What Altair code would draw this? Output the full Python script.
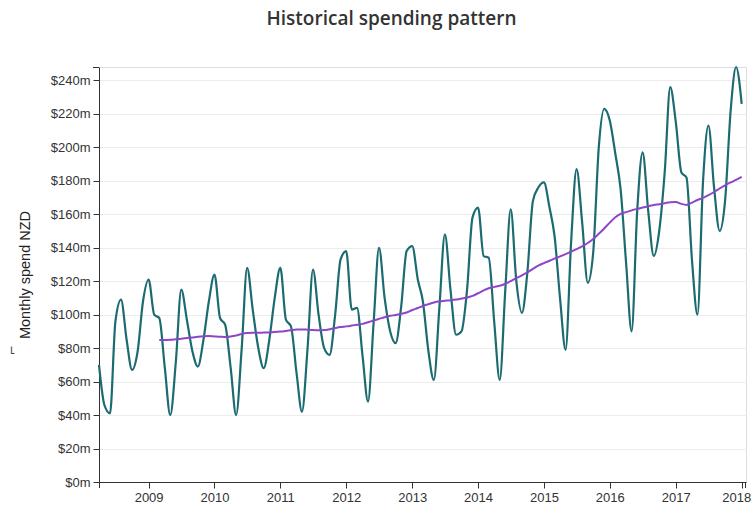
import altair as alt
import pandas as pd

# Monthly spend in NZD millions, April 2008 to January 2018
months = pd.date_range("2008-04-01", "2018-01-01", freq="MS").strftime("%Y-%m-%d").tolist()

spend = [
    # 2008 (Apr-Dec)
    70, 46, 41, 96, 109, 85, 67, 78, 108,
    # 2009
    121, 100, 98, 68, 40, 72, 115, 97, 78, 69, 85, 108,
    # 2010
    124, 98, 94, 68, 40, 80, 128, 103, 80, 68, 85, 110,
    # 2011
    128, 97, 93, 65, 42, 80, 127, 100, 80, 76, 100, 133,
    # 2012
    138, 103, 104, 75, 48, 95, 140, 110, 90, 83, 105, 138,
    # 2013
    141, 121, 108, 78, 61, 105, 148, 115, 88, 90, 115, 158,
    # 2014
    164, 135, 134, 95, 61, 115, 163, 120, 101, 125, 168, 176,
    # 2015
    179, 164, 147, 109, 79, 144, 187, 155, 119, 137, 200, 223,
    # 2016
    216, 196, 175, 130, 90, 162, 197, 162, 135, 150, 186, 236,
    # 2017
    215, 185, 182, 132, 100, 180, 213, 176, 150, 168, 222, 248,
    # 2018 (Jan)
    226,
]

# 12-month rolling average, March 2009 to January 2018
trend = [
    84.8, 84.9, 85.0, 85.3, 85.6, 86.0, 86.4, 86.8, 87.1, 87.2,
    87.0, 86.8, 86.7, 87.0, 87.6, 88.5, 89.0, 89.2, 89.2, 89.3,
    89.4, 89.6, 89.9, 90.3, 90.7, 91.1, 91.2, 91.0, 90.8, 90.7,
    90.8, 91.3, 92.0, 92.6, 93.0, 93.5, 94.0, 94.5, 95.5, 96.5,
    97.5, 98.5, 99.3, 99.8, 100.5, 101.3, 102.8, 104.0, 105.2, 106.3,
    107.3, 108.0, 108.3, 108.6, 109.0, 109.6, 110.2, 111.2, 112.8, 114.5,
    115.8, 116.6, 117.3, 118.5, 120.0, 121.8, 123.5, 125.3, 127.3, 129.3,
    130.8, 132.2, 133.5, 134.8, 136.2, 137.7, 139.2, 140.8, 142.8, 145.2,
    148.3, 151.5, 155.0, 158.2, 160.2, 161.3, 162.3, 163.2, 164.0, 164.8,
    165.5, 166.0, 166.6, 167.2, 167.3, 166.2, 165.6, 167.0, 168.5, 169.8,
    171.4, 173.3, 175.4, 177.3, 179.0, 180.5, 182.3,
]

year_ticks = list(range(2009, 2019))
spend_ticks = list(range(0, 241, 20))

spend_df = pd.DataFrame({"month": months, "spend": spend})
trend_df = pd.DataFrame({"month": months[len(months) - len(trend):], "trend": trend})

W, H = 647, 415
AXIS_FONT = "Liberation Sans"
INK = "#333333"

x_scale = alt.Scale(
    domain=[alt.DateTime(year=2008, month=4, date=1), alt.DateTime(year=2018, month=1, date=25)]
)
y_scale = alt.Scale(domain=[0, max(spend)], nice=False, zero=True)

last_year = "year(datum.value) == %d" % year_ticks[-1]

x_axis = alt.Axis(
    values=[alt.DateTime(year=y, month=1, date=1) for y in year_ticks],
    format="%Y",
    title=None,
    grid=False,
    tickSize=6,
    labelPadding=3,
    labelFont=AXIS_FONT,
    labelFontSize=13,
    labelColor=INK,
    labelOverlap=False,
    labelAlign={"expr": "%s ? 'right' : 'center'" % last_year},
    labelOffset={"expr": "%s ? 9 : 0" % last_year},
    domainColor=INK,
    tickColor=INK,
)
y_axis = alt.Axis(
    values=spend_ticks,
    labelExpr="'$' + datum.value + 'm'",
    labelOverlap=False,
    grid=True,
    gridColor="#ececec",
    tickSize=6,
    labelPadding=3,
    labelFont=AXIS_FONT,
    labelFontSize=13,
    labelColor=INK,
    domainColor=INK,
    tickColor=INK,
    title="Monthly spend NZD",
    titleFont=AXIS_FONT,
    titleFontSize=14.5,
    titleFontWeight="normal",
    titleColor="#222222",
    titleAngle=270,
    titleAlign="center",
    titleBaseline="middle",
    titleX=-74,
    titleY=H / 2,
)

spend_line = alt.Chart(spend_df).mark_line(
    color="#1b6b70", strokeWidth=2.2, interpolate="monotone"
).encode(
    x=alt.X("month:T", scale=x_scale, axis=x_axis),
    y=alt.Y("spend:Q", scale=y_scale, axis=y_axis),
)

trend_line = alt.Chart(trend_df).mark_line(
    color="#8e46c6", strokeWidth=2, interpolate="monotone"
).encode(
    x=alt.X("month:T", scale=x_scale, axis=x_axis),
    y=alt.Y("trend:Q", scale=y_scale, axis=y_axis),
)

# Outer end caps of the two axis lines
one = pd.DataFrame({"k": [0]})
cap_y_top = alt.Chart(one).mark_rule(color=INK, strokeWidth=1).encode(
    x=alt.value(-6), x2=alt.value(0), y=alt.value(0.5)
)
cap_x_left = alt.Chart(one).mark_rule(color=INK, strokeWidth=1).encode(
    x=alt.value(0.5), y=alt.value(H), y2=alt.value(H + 6)
)
cap_x_right = alt.Chart(one).mark_rule(color=INK, strokeWidth=1).encode(
    x=alt.value(W - 0.5), y=alt.value(H), y2=alt.value(H + 6)
)
corner_mark = alt.Chart(one).mark_text(
    text="\u2310", angle=270, fontSize=12, color="#444444", font="DejaVu Sans"
).encode(x=alt.value(-87), y=alt.value(283))

chart = alt.layer(
    spend_line, trend_line, cap_y_top, cap_x_left, cap_x_right, corner_mark
).properties(
    width=W,
    height=H,
    title=alt.Title(
        "Historical spending pattern",
        font="Open Sans",
        fontSize=19,
        fontWeight=600,
        color="#333333",
        anchor="middle",
        frame="group",
        dx=-31,
        offset=34,
    ),
    autosize=alt.AutoSizeParams(type="none"),
    padding={"left": 99, "top": 67, "right": 6, "bottom": 26},
).configure_view(stroke=None).configure(background="white")

chart.save("out.html", embed_options={"renderer": "svg", "actions": False})
